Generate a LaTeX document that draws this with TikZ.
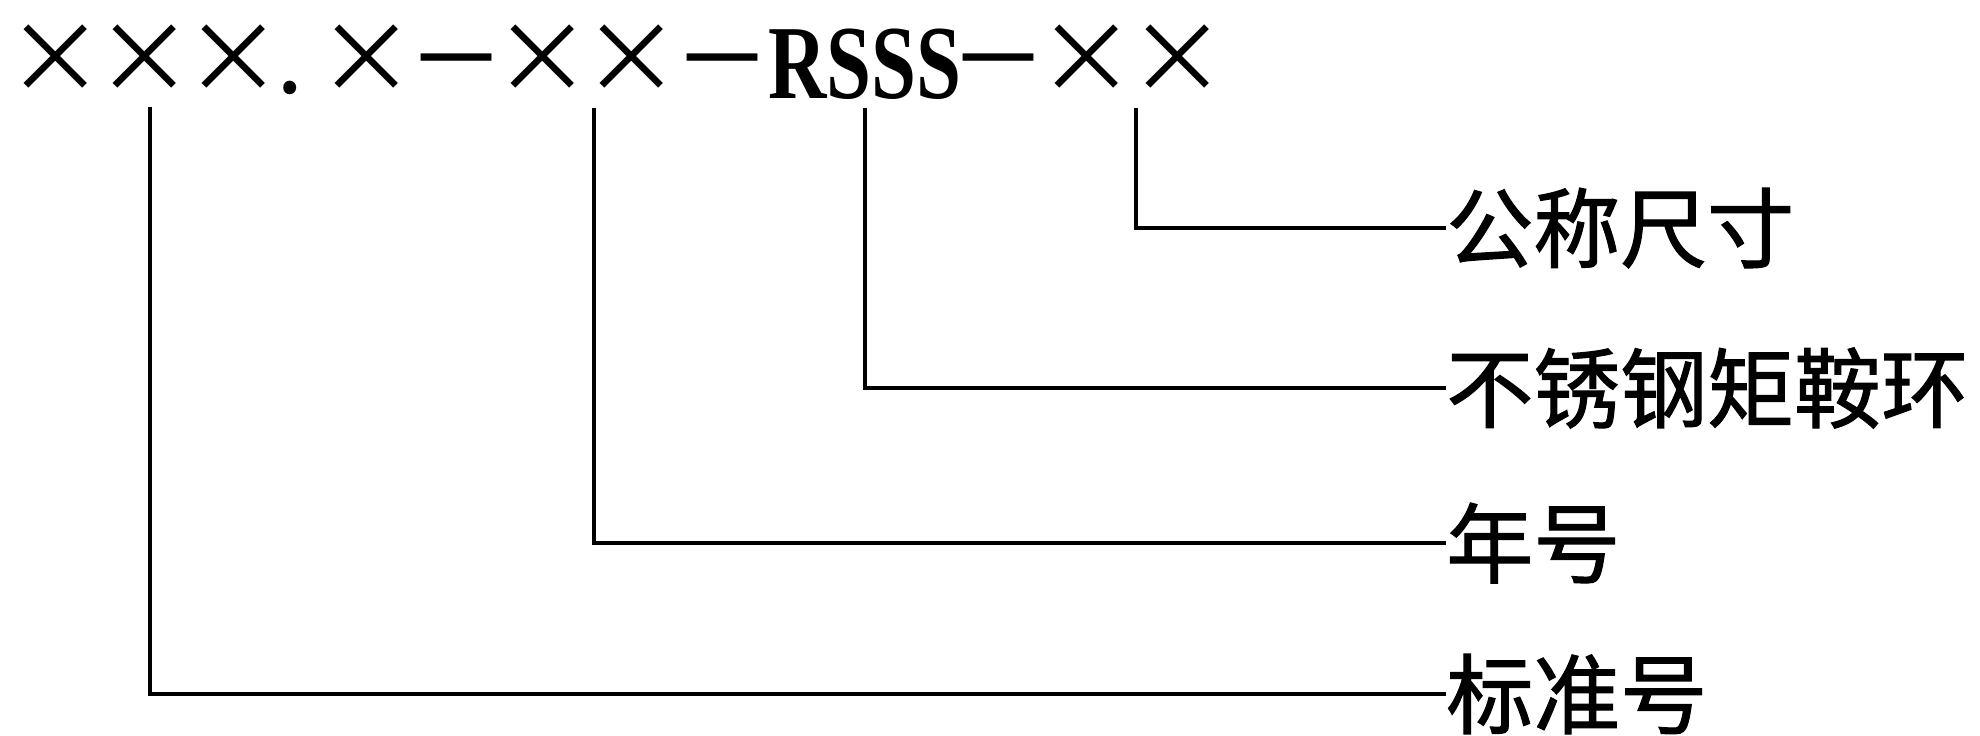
\documentclass[tikz,border=0pt]{standalone}
\usepackage{fontspec}
\usepackage{graphicx}
\newfontfamily\cjk{Noto Sans CJK SC}
\newfontfamily\cjkb[FakeBold=1.3]{Noto Sans CJK SC}
\newfontfamily\tms{Liberation Serif}
\tikzset{
  lead/.style={line width=2.8pt, line cap=butt, line join=miter},
  lab/.style={anchor=west, inner sep=0pt, font=\cjkb\fontsize{49.5}{50}\selectfont},
  sym/.style={anchor=base, inner sep=0pt, font=\cjk\fontsize{56}{56}\selectfont},
  code/.style={inner sep=0pt, font=\tms\bfseries\fontsize{46}{46}\selectfont},
}
\newcommand{\dsh}{\scalebox{1.5}[1.1]{−}}
\begin{document}
\begin{tikzpicture}[x=0.02cm, y=-0.02cm]
\useasboundingbox (0,0) rectangle (1980,735);
% top code row (common baseline y=93)
\node[sym] (c1) at (56,93) {×};
\node[sym] (c2) at (145,93) {×};
\node[sym] (c3) at (234,93) {×};
\node[sym] (dot) at (290,93) {.};
\node[sym] (c4) at (367,93) {×};
\node[sym] (d1) at (456,97) {\dsh};
\node[sym] (c5) at (543,93) {×};
\node[sym] (c6) at (632,93) {×};
\node[sym] (d2) at (722,97) {\dsh};
\node[code] (rs) at (865,64) {\scalebox{1}[1.3]{RSSS}};
\node[sym] (d3) at (998,97) {\dsh};
\node[sym] (c7) at (1087,93) {×};
\node[sym] (c8) at (1178,93) {×};
% labels
\node[lab] (l1) at (1446,228) {公称尺寸};
\node[lab] (l2) at (1446,388) {不锈钢矩鞍环};
\node[lab] (l3) at (1446,543) {年号};
\node[lab] (l4) at (1446,694) {标准号};
% leader starts
\coordinate (s1) at (150,107);
\coordinate (s2) at (594,108);
\coordinate (s3) at (865,108);
\coordinate (s4) at (1136,108);
\draw[lead] (s4) |- (l1.west);
\draw[lead] (s3) |- (l2.west);
\draw[lead] (s2) |- (l3.west);
\draw[lead] (s1) |- (l4.west);
\end{tikzpicture}
\end{document}
